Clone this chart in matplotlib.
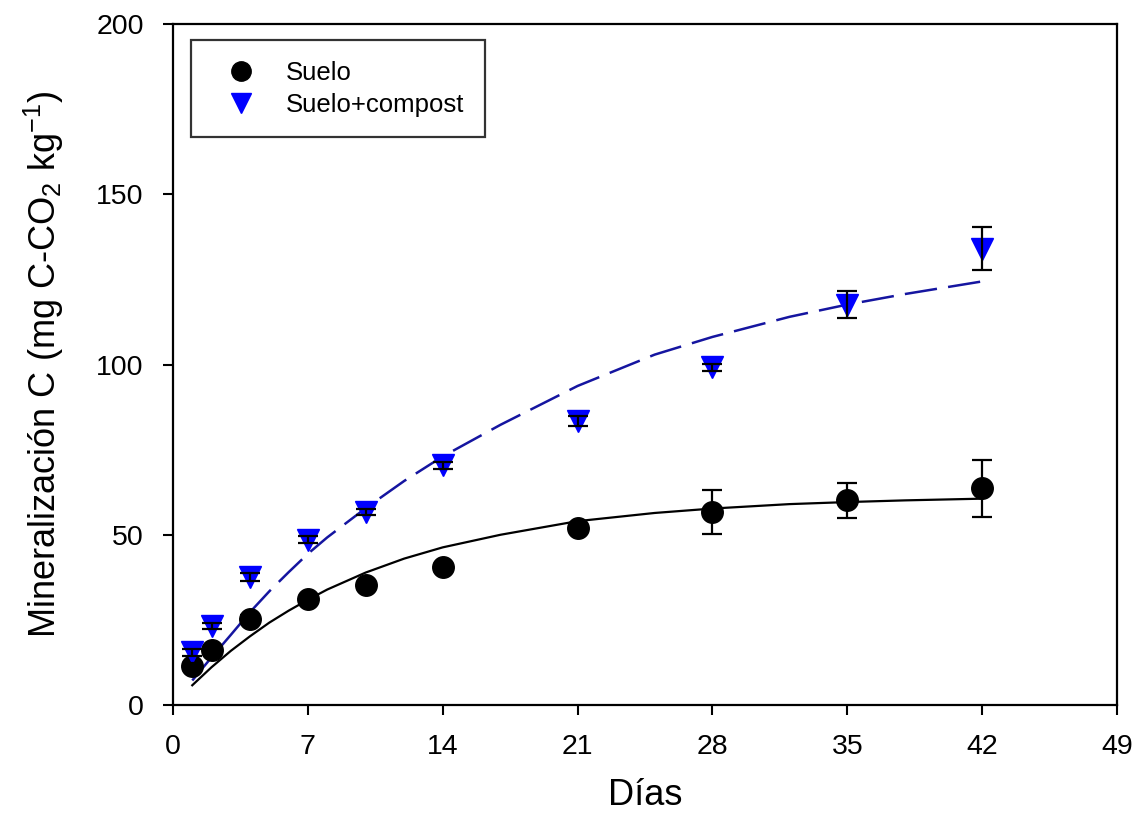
import matplotlib
matplotlib.use("Agg")
import matplotlib.pyplot as plt
import numpy as np

plt.rcParams["font.family"] = ["Liberation Sans", "DejaVu Sans"]
plt.rcParams["mathtext.fontset"] = "custom"
plt.rcParams["mathtext.rm"] = "Liberation Sans"
plt.rcParams["mathtext.it"] = "Liberation Sans:italic"

# medidas
dias = [1, 2, 4, 7, 10, 14, 21, 28, 35, 42]
suelo = [11.4, 16.1, 25.4, 31.0, 35.1, 40.4, 52.0, 56.7, 60.1, 63.7]
suelo_err = [1.0, 1.0, 1.0, 1.0, 1.0, 1.0, 1.0, 6.4, 5.2, 8.4]
compost = [15.5, 23.2, 37.5, 48.5, 56.7, 70.4, 83.3, 99.2, 117.6, 134.0]
compost_err = [1.0, 1.0, 1.2, 1.0, 1.0, 1.0, 1.5, 1.0, 4.0, 6.3]

# curvas ajustadas
dias_ajuste = [1, 2, 3, 4, 5, 6, 7, 8, 10, 12, 14, 17, 21, 25, 28, 32, 35, 38, 42]
suelo_ajuste = [5.8, 11.1, 15.9, 20.2, 24.2, 27.7, 30.9, 33.9, 38.9, 43.0, 46.3,
                50.0, 54.0, 56.4, 57.7, 59.0, 59.6, 60.1, 60.6]
compost_ajuste = [7.2, 14.0, 20.6, 27.3, 33.4, 39.0, 44.4, 49.2, 57.8, 65.8, 73.0,
                  82.3, 93.7, 102.9, 108.1, 114.0, 117.6, 120.7, 124.4]

fig = plt.figure(figsize=(11.36, 8.27), dpi=100)
ax = fig.add_axes([0.1523, 0.1475, 0.8310, 0.8235])

ax.plot(dias_ajuste, suelo_ajuste, color="black", lw=1.6, zorder=2)
ax.plot(dias_ajuste, compost_ajuste, color="#1515a0", lw=1.8,
        dashes=(13, 4.5), zorder=2)

ax.plot(dias, suelo, "o", color="black", ms=15.5, label="Suelo", zorder=3)
ax.plot(dias, compost, "v", color="#0000ff", ms=15.5, label="Suelo+compost", zorder=3)

ax.errorbar(dias, suelo, yerr=suelo_err, fmt="none", ecolor="black",
            elinewidth=1.6, capsize=7.5, capthick=1.6, zorder=4)
ax.errorbar(dias, compost, yerr=compost_err, fmt="none", ecolor="black",
            elinewidth=1.6, capsize=7.5, capthick=1.6, zorder=4)

ax.set_xlim(0, 49)
ax.set_ylim(0, 200)
ax.set_xticks(range(0, 50, 7))
ax.set_yticks(range(0, 201, 50))

for s in ax.spines.values():
    s.set_linewidth(1.6)
ax.tick_params(direction="out", length=7, width=1.5, labelsize=20.5, pad=14,
               top=False, right=False)

ax.set_xlabel("Días", fontsize=26, labelpad=13)
ax.set_ylabel(r"Mineralización C (mg C-CO$_2$ kg$^{-1}$)", fontsize=26, labelpad=22)

leg = ax.legend(loc="upper left", bbox_to_anchor=(0.019, 0.976), fontsize=18.5,
                frameon=True, fancybox=False, edgecolor="black", borderpad=0.8,
                handletextpad=0.6, labelspacing=0.3, borderaxespad=0,
                markerscale=0.9, handlelength=2.3)
leg.get_frame().set_linewidth(1.6)

fig.savefig("out.png", dpi=100)
